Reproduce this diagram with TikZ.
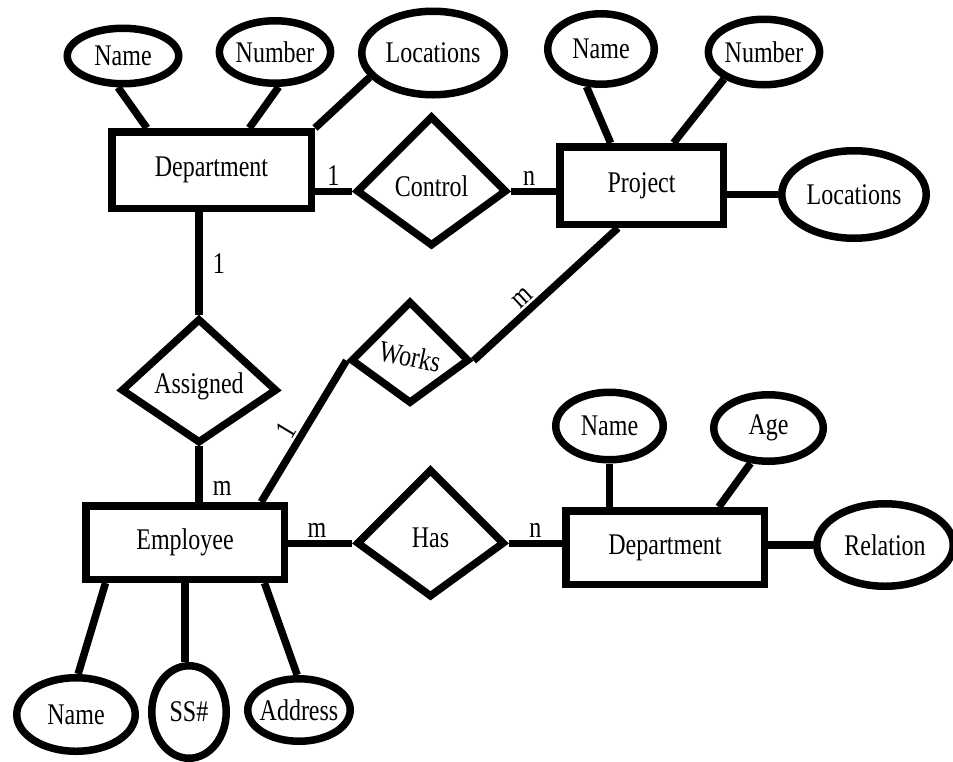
\documentclass[tikz,border=0pt]{standalone}
\usepackage{fontspec}
\setmainfont{Liberation Serif}[FakeStretch=0.8]
\usepackage{tikz}
\usetikzlibrary{shapes.geometric}

\begin{document}
\begin{tikzpicture}[x=1pt,y=-1pt]
\tikzstyle{every node}+=[inner sep=0pt,font=\fontsize{30}{34}\selectfont]
\tikzstyle{entity}=[draw,rectangle,line width=7.5pt,minimum width=198.5pt,minimum height=73.5pt]
\tikzstyle{attr}=[draw,ellipse,line width=7.5pt]
\tikzstyle{relship}=[draw,kite,kite vertex angles=90 and 108,line width=7.5pt]
\tikzstyle{link}=[line width=7.5pt]
\tikzstyle{card}=[inner sep=2pt]
\useasboundingbox (0,0) rectangle (953,761);
% entities
\node [entity,minimum width=199.5pt,minimum height=76.5pt] (dept) at (211.5,170) {Department};
\node [entity,minimum width=163.5pt,minimum height=77.5pt] (proj) at (641.5,185.5) {Project};
\node [entity] (emp) at (185,542.5) {Employee};
\node [entity] (dept2) at (665,547.5) {Department};
% relationships
\node [relship,inner xsep=2.1pt,inner ysep=19.75pt] (control) at (431.5,186.3) {Control};
\node [relship,kite vertex angles=95 and 112,inner xsep=1.6pt,inner ysep=10.5pt] (assigned) at (199,386.4) {Assigned};
\node [relship,inner xsep=-1.6pt,inner ysep=6.35pt] (works) at (410,356.5) {\rotatebox{-12}{Works}};
\node [relship,inner xsep=19.1pt,inner ysep=20.1pt] (has) at (430.5,538.3) {Has};
% attributes
\node [attr,minimum width=111.5pt,minimum height=55.5pt] (dname) at (123,56) {Name};
\node [attr,minimum width=110.5pt,minimum height=62.5pt] (dnum) at (275,52) {Number};
\node [attr,minimum width=142.5pt,minimum height=83.5pt] (dloc) at (433,53) {Locations};
\node [attr,minimum width=106.5pt,minimum height=70.5pt] (pname) at (601,49) {Name};
\node [attr,minimum width=110.5pt,minimum height=65.5pt] (pnum) at (764,52) {Number};
\node [attr,minimum width=144.5pt,minimum height=87.5pt] (ploc) at (854,194.5) {Locations};
\node [attr,minimum width=107.5pt,minimum height=67.5pt] (d2name) at (609.5,426) {Name};
\node [attr,minimum width=109.5pt,minimum height=66.5pt] (age) at (768.5,428) {Age};
\node [attr,minimum width=136.5pt,minimum height=82.5pt] (relation) at (885,545) {Relation};
\node [attr,minimum width=118.5pt,minimum height=73.5pt] (ename) at (76,714.5) {Name};
\node [attr,minimum width=74.5pt,minimum height=92.5pt] (ssn) at (189,712) {SS\#};
\node [attr,minimum width=102.5pt,minimum height=62.5pt,inner xsep=-4pt] (addr) at (299,710) {Address};
% connectors
\draw [link] (dname.261) -- (dept.147);
\draw [link] (dnum.276) -- (dept.48);
\draw [link] (dloc.201) -- (dept.north east);
\draw [link] (control.left vertex -| dept.east) -- (control.left vertex) node [card,midway,above] {1};
\draw [link] (control.right vertex) -- (control.right vertex -| proj.west) node [card,pos=0.4,above] {n};
\draw [link] (pname.249) -- (proj.126);
\draw [link] (pnum.214) -- (proj.53);
\draw [link] (ploc.west) -- (ploc.west -| proj.east);
\draw [link] (assigned.upper vertex |- dept.south) -- (assigned.upper vertex) node [card,midway,right=8pt] {1};
\draw [link] (assigned.lower vertex) -- (assigned.lower vertex |- emp.north) node [card,pos=0.75,right=8pt] {m};
\draw [link] (emp.28) -- (works.left vertex) node [card,sloped,above,pos=0.45] {1};
\draw [link] (works.right vertex) -- (proj.241) node [card,sloped,above,pos=0.4] {m};
\draw [link] (has.left vertex -| emp.east) -- (has.left vertex) node [card,above,pos=0.45] {m};
\draw [link] (has.right vertex) -- (has.right vertex -| dept2.west) node [card,above,midway] {n};
\draw [link] (d2name.south) -- (d2name.south |- dept2.north);
\draw [link] (age.243) -- (dept2.37);
\draw [link] (relation.west) -- (relation.west -| dept2.east);
\draw [link] (emp.207) -- (ename.87);
\draw [link] (emp.south) -- (emp.south |- ssn.north);
\draw [link] (emp.333) -- (addr.93);
\end{tikzpicture}
\end{document}
